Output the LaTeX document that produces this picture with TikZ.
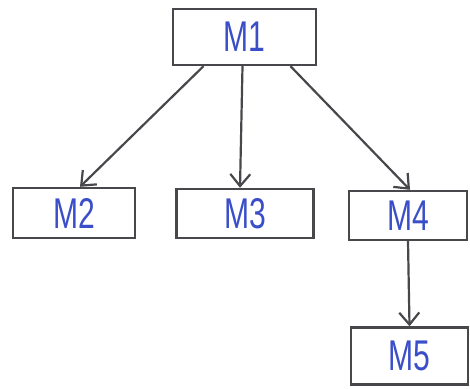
\documentclass[tikz,border=0pt]{standalone}
\usepackage{fontspec}
\setmainfont{Liberation Sans}
\usetikzlibrary{arrows.meta}
\definecolor{pen}{RGB}{72,72,76}
\definecolor{ink}{RGB}{58,78,200}
\tikzset{
  module/.style={draw=pen, line width=2.4pt, rectangle, inner sep=0pt,
    text=ink, font=\fontsize{43}{43}\selectfont},
  link/.style={draw=pen, line width=2.2pt,
    -{Straight Barb[length=12pt, width=20pt, line width=2.2pt]}}
}
\newcommand{\lbl}[1]{\scalebox{0.7}[1]{#1}}
\begin{document}
\begin{tikzpicture}[x=1pt, y=-1pt]
  \useasboundingbox (0,0) rectangle (470,388);
  \node[module, minimum width=143pt, minimum height=56pt] (M1) at (244.5,37) {\lbl{M1}};
  \node[module, minimum width=122pt, minimum height=50pt] (M2) at (74,213) {\lbl{M2}};
  \node[module, minimum width=137pt, minimum height=49pt] (M3) at (245,213.5) {\lbl{M3}};
  \node[module, minimum width=118pt, minimum height=49pt] (M4) at (408,215.5) {\lbl{M4}};
  \node[module, minimum width=117pt, minimum height=57pt] (M5) at (409.5,356) {\lbl{M5}};

  \draw[link] ([xshift=-41pt]M1.south) -- ([xshift=6pt]M2.north);
  \draw[link] ([xshift=-2pt]M1.south) -- ([xshift=-5pt]M3.north);
  \draw[link] ([xshift=46pt]M1.south) -- ([xshift=2pt]M4.north);
  \draw[link] (M4.south) -- (M5.north);
\end{tikzpicture}
\end{document}
